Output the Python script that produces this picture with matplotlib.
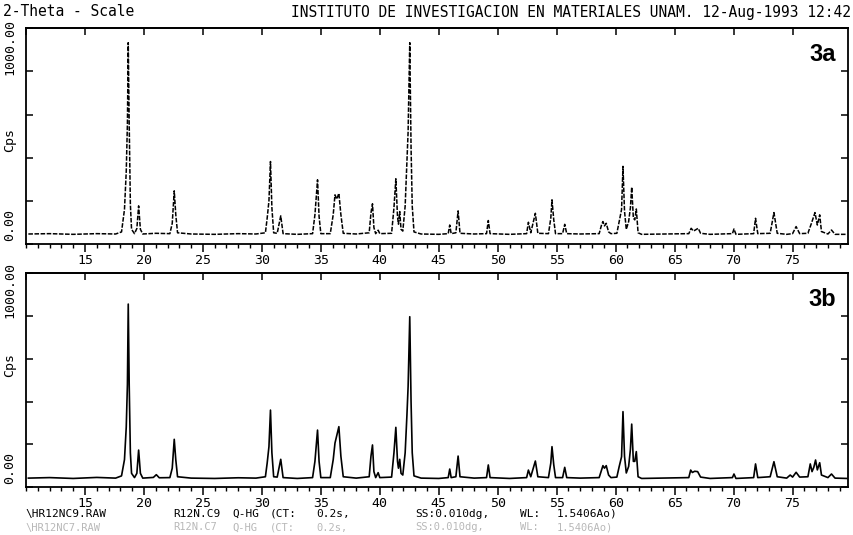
import matplotlib.pyplot as plt
from matplotlib.ticker import MultipleLocator, FixedLocator

# 2-theta / counts (panel 3b, solid trace)
tt_b = [10.2, 12.0, 14.0, 16.0, 17.6, 18.1, 18.35, 18.5, 18.6, 18.67, 18.75, 18.85, 18.95, 19.2,
        19.4, 19.55, 19.7, 19.9, 20.8, 21.05, 21.3, 22.2, 22.4, 22.57, 22.7, 22.85, 24.0, 26.0,
        28.0, 29.5, 30.3, 30.45, 30.6, 30.73, 30.85, 31.0, 31.3, 31.6, 31.8, 33.0, 34.3, 34.5,
        34.72, 34.85, 35.0, 35.8, 36.05, 36.2, 36.35, 36.53, 36.7, 36.9, 38.0, 39.1, 39.25, 39.38,
        39.5, 39.65, 39.86, 40.0, 41.0, 41.2, 41.36, 41.5, 41.58, 41.69, 41.8, 41.95, 42.15, 42.3,
        42.4, 42.54, 42.65, 42.75, 42.9, 43.5, 45.0, 45.8, 45.93, 46.05, 46.45, 46.64, 46.8, 48.0,
        49.05, 49.2, 49.35, 51.0, 52.45, 52.6, 52.8, 53.19, 53.4, 54.3, 54.5, 54.6, 54.75, 54.9,
        55.5, 55.68, 55.85, 57.0, 58.6, 58.8, 58.92, 59.05, 59.2, 59.4, 59.6, 60.1, 60.3, 60.5,
        60.62, 60.75, 60.9, 61.1, 61.25, 61.36, 61.5, 61.62, 61.75, 61.9, 62.2, 64.0, 66.2, 66.36,
        66.5, 66.7, 66.95, 67.2, 68.0, 69.9, 70.03, 70.2, 71.7, 71.86, 72.05, 73.1, 73.42, 73.7,
        74.5, 74.8, 75.0, 75.3, 75.6, 76.3, 76.5, 76.65, 76.8, 76.95, 77.1, 77.3, 77.45, 78.0,
        78.3, 78.6, 79.6]
cps_b = [52, 55, 50, 56, 52, 65, 160, 350, 600, 1070, 600, 200, 80, 55,
         80, 216, 80, 52, 56, 72, 54, 55, 110, 279, 160, 60, 52, 50,
         54, 52, 60, 140, 236, 450, 200, 60, 58, 162, 55, 50, 55, 150,
         333, 150, 55, 55, 160, 257, 300, 353, 180, 60, 52, 60, 180, 246,
         90, 55, 84, 55, 58, 200, 349, 150, 110, 162, 80, 70, 200, 420,
         587, 996, 500, 200, 65, 52, 50, 55, 105, 55, 60, 181, 60, 52,
         55, 129, 55, 50, 55, 99, 60, 152, 60, 55, 140, 236, 130, 55,
         55, 115, 55, 52, 55, 100, 125, 110, 125, 70, 55, 58, 120, 177,
         441, 180, 82, 120, 220, 368, 150, 150, 207, 60, 50, 52, 55, 99,
         85, 92, 90, 58, 50, 55, 76, 50, 55, 135, 55, 60, 148, 60,
         52, 70, 58, 86, 58, 60, 135, 90, 115, 158, 100, 142, 70, 55,
         76, 52, 50]

# panel 3a (faded print)
tt_a = [10.2, 12.0, 14.0, 16.0, 17.6, 18.1, 18.35, 18.5, 18.6, 18.67, 18.75, 18.85, 18.95, 19.2,
        19.4, 19.55, 19.7, 19.9, 21.0, 22.2, 22.4, 22.57, 22.7, 22.85, 24.0, 26.0, 28.0, 29.5,
        30.3, 30.45, 30.6, 30.73, 30.85, 31.0, 31.3, 31.6, 31.8, 33.0, 34.3, 34.5, 34.72, 34.85,
        35.0, 35.8, 36.05, 36.2, 36.35, 36.53, 36.7, 36.9, 38.0, 39.1, 39.25, 39.38, 39.5, 39.65,
        39.86, 40.0, 41.0, 41.2, 41.36, 41.5, 41.58, 41.69, 41.8, 41.95, 42.15, 42.3, 42.4, 42.54,
        42.65, 42.75, 42.9, 43.5, 45.0, 45.8, 45.93, 46.05, 46.45, 46.64, 46.8, 48.0, 49.05, 49.2,
        49.35, 51.0, 52.45, 52.6, 52.8, 53.19, 53.4, 54.3, 54.5, 54.6, 54.75, 54.9, 55.5, 55.68,
        55.85, 57.0, 58.6, 58.8, 58.92, 59.05, 59.2, 59.4, 59.6, 60.1, 60.3, 60.5, 60.62, 60.75,
        60.9, 61.1, 61.25, 61.36, 61.5, 61.62, 61.75, 61.9, 62.2, 64.0, 66.2, 66.4, 66.6, 67.0,
        67.2, 68.0, 69.9, 70.03, 70.2, 71.7, 71.86, 72.05, 73.1, 73.42, 73.7, 74.5, 75.0, 75.3,
        75.6, 76.3, 76.6, 76.9, 77.1, 77.3, 77.45, 78.0, 78.3, 78.6, 79.6]
cps_a = [58, 60, 56, 60, 58, 70, 200, 420, 700, 1167, 700, 230, 85, 60,
         90, 221, 85, 58, 62, 60, 120, 308, 170, 65, 58, 56, 60, 58,
         65, 150, 250, 478, 210, 65, 62, 163, 60, 56, 60, 170, 372, 160,
         60, 60, 170, 285, 260, 294, 170, 62, 58, 65, 180, 233, 95, 60,
         80, 60, 62, 210, 378, 160, 115, 188, 85, 75, 220, 480, 650, 1167,
         560, 220, 70, 58, 56, 60, 110, 60, 65, 192, 62, 58, 60, 136,
         60, 56, 60, 126, 65, 178, 62, 60, 150, 256, 140, 60, 60, 114,
         60, 58, 60, 110, 130, 105, 120, 70, 60, 62, 130, 200, 450, 190,
         85, 130, 210, 330, 150, 140, 203, 65, 56, 58, 60, 91, 75, 91,
         62, 56, 60, 87, 56, 60, 149, 60, 62, 182, 62, 56, 60, 101,
         60, 62, 120, 182, 110, 169, 72, 58, 81, 56, 56]

x_ticks = [15, 20, 25, 30, 35, 40, 45, 50, 55, 60, 65, 70, 75]
mono = 'DejaVu Sans Mono'

fig = plt.figure(figsize=(8.54, 5.35), dpi=100)
W, H = 854, 535


def make_axes(top, bottom):
    ax = fig.add_axes([26 / W, 1 - bottom / H, (848 - 26) / W, (bottom - top) / H])
    for s in ax.spines.values():
        s.set_linewidth(1.3)
    ax.set_xlim(10, 79.7)
    ax.set_ylim(0, 1252)
    ax.xaxis.set_major_locator(FixedLocator(x_ticks))
    ax.xaxis.set_minor_locator(MultipleLocator(1))
    ax.tick_params(axis='x', which='major', direction='out', length=6, width=1.1,
                   labelsize=9.5, pad=1)
    ax.tick_params(axis='x', which='minor', direction='out', length=3, width=1)
    for lab in ax.get_xticklabels():
        lab.set_family(mono)
    ax.yaxis.set_major_locator(MultipleLocator(250))
    ax.tick_params(axis='y', which='major', direction='in', left=True, right=True,
                   labelleft=False, length=5, width=1.1)
    top_ax = ax.secondary_xaxis('top')
    top_ax.set_xticks([10, 15, 20, 25, 30, 35, 40, 45, 50, 55, 60, 65, 70, 75])
    top_ax.tick_params(direction='in', length=5, width=1.1, labeltop=False)
    top_ax.spines['top'].set_linewidth(1.3)
    return ax


ax_a = make_axes(28, 244)
ax_b = make_axes(273, 487)

ax_a.plot(tt_a, cps_a, color='black', lw=1.1, ls=(0, (3, 1)))
ax_b.plot(tt_b, cps_b, color='black', lw=1.2)

ax_a.text(0.985, 0.93, '3a', transform=ax_a.transAxes, ha='right', va='top',
          fontsize=17, fontweight='bold', family='Liberation Sans')
ax_b.text(0.985, 0.93, '3b', transform=ax_b.transAxes, ha='right', va='top',
          fontsize=17, fontweight='bold', family='Liberation Sans')

# header
fig.text(3 / W, 1 - 12 / H, '2-Theta - Scale', ha='left', va='center',
         family=mono, fontsize=10.5)
fig.text(851 / W, 1 - 12 / H, 'INSTITUTO DE INVESTIGACION EN MATERIALES UNAM. 12-Aug-1993 12:42',
         ha='right', va='center', family=mono, fontsize=10.5)

# rotated y labels
for y0, y1000, ycps in [(244, 75, 140), (487, 318, 365)]:
    fig.text(10 / W, 1 - y1000 / H, '1000.00', rotation=90, ha='center', va='bottom',
             family=mono, fontsize=9.5)
    fig.text(10 / W, 1 - ycps / H, 'Cps', rotation=90, ha='center', va='center',
             family=mono, fontsize=9.5)
    fig.text(10 / W, 1 - (y0 - 3) / H, '0.00', rotation=90, ha='center', va='bottom',
             family=mono, fontsize=9.5)

# footer: file / scan info
foot_x = [25, 173, 232, 270, 316, 415, 520, 557]
foot = ['\\HR12NC9.RAW', 'R12N.C9', 'Q-HG', '(CT:', '0.2s,', 'SS:0.010dg,', 'WL:', '1.5406Ao)']
foot2 = ['\\HR12NC7.RAW', 'R12N.C7', 'Q-HG', '(CT:', '0.2s,', 'SS:0.010dg,', 'WL:', '1.5406Ao)']
for x, s in zip(foot_x, foot):
    fig.text(x / W, 1 - 514 / H, s, ha='left', va='center', family=mono, fontsize=8)
for x, s in zip(foot_x, foot2):
    fig.text(x / W, 1 - 527.5 / H, s, ha='left', va='center', family=mono, fontsize=7.5,
             color='#b8b8b8')

fig.savefig('out.png', dpi=100)
